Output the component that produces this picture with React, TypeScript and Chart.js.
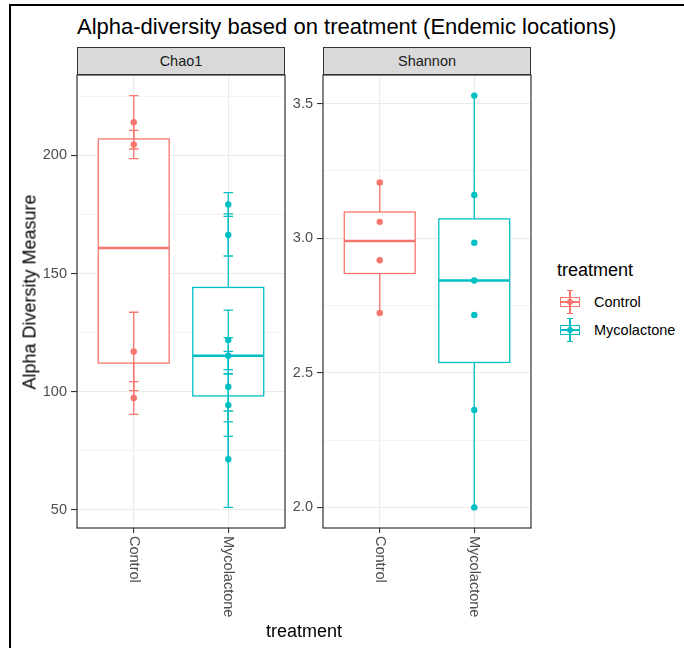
import React, { useEffect, useRef } from 'react';
import { Chart, registerables } from 'chart.js';

Chart.register(...registerables);

// ---------- data ----------
const treatments = ['Control', 'Mycolactone'];
const treatmentColors = ['#F8766D', '#00BFC4'];

const chao1Control = [214.0, 204.6, 117.0, 97.3];
const chao1ControlSE = [11.3, 6.0, 16.6, 6.9];
const chao1Myco = [179.2, 166.3, 121.9, 115.2, 102.1, 94.3, 71.4];
const chao1MycoSE = [5.0, 8.9, 12.6, 7.7, 14.9, 13.2, 20.4];

const shannonControl = [3.207, 3.061, 2.918, 2.722];
const shannonMyco = [3.53, 3.161, 2.983, 2.843, 2.715, 2.362, 2.0];

const chao1Ticks = [50, 100, 150, 200];
const chao1TickLabels = ['50', '100', '150', '200'];
const chao1Minor = [75, 125, 175, 225];

const shannonTicks = [2.0, 2.5, 3.0, 3.5];
const shannonTickLabels = ['2.0', '2.5', '3.0', '3.5'];
const shannonMinor = [2.25, 2.75, 3.25];

const FONT = '"Liberation Sans", Arial, Helvetica, sans-serif';

type Group = { x: number; values: number[]; se?: number[]; color: string };

function quantile7(sorted: number[], p: number) {
  const h = (sorted.length - 1) * p;
  const lo = Math.floor(h);
  const hi = Math.ceil(h);
  return sorted[lo] + (h - lo) * (sorted[hi] - sorted[lo]);
}

function yRange(groups: Group[]) {
  let lo = Infinity;
  let hi = -Infinity;
  groups.forEach((g) => {
    g.values.forEach((v, i) => {
      const e = g.se ? g.se[i] : 0;
      lo = Math.min(lo, v - e);
      hi = Math.max(hi, v + e);
    });
  });
  const pad = (hi - lo) * 0.05;
  return [lo - pad, hi + pad];
}

function makePlugin(groups: Group[]) {
  return {
    id: 'ggbox',
    beforeDatasetsDraw(chart: any) {
      const { ctx, scales } = chart;
      const x = scales.x;
      const y = scales.y;
      groups.forEach((g) => {
        const s = [...g.values].sort((a, b) => a - b);
        const q1 = quantile7(s, 0.25);
        const med = quantile7(s, 0.5);
        const q3 = quantile7(s, 0.75);
        const iqr = q3 - q1;
        const lowW = Math.min(...s.filter((v) => v >= q1 - 1.5 * iqr));
        const highW = Math.max(...s.filter((v) => v <= q3 + 1.5 * iqr));
        const xc = x.getPixelForValue(g.x);
        const xl = x.getPixelForValue(g.x - 0.375);
        const xr = x.getPixelForValue(g.x + 0.375);
        ctx.save();
        ctx.strokeStyle = g.color;
        ctx.lineWidth = 1.3;
        // whiskers
        ctx.beginPath();
        ctx.moveTo(xc, y.getPixelForValue(q3));
        ctx.lineTo(xc, y.getPixelForValue(highW));
        ctx.moveTo(xc, y.getPixelForValue(q1));
        ctx.lineTo(xc, y.getPixelForValue(lowW));
        ctx.stroke();
        // box
        const yt = y.getPixelForValue(q3);
        const yb = y.getPixelForValue(q1);
        ctx.fillStyle = '#FFFFFF';
        ctx.fillRect(xl, yt, xr - xl, yb - yt);
        ctx.strokeRect(xl, yt, xr - xl, yb - yt);
        // median
        ctx.lineWidth = 2.6;
        ctx.beginPath();
        ctx.moveTo(xl, y.getPixelForValue(med));
        ctx.lineTo(xr, y.getPixelForValue(med));
        ctx.stroke();
        ctx.restore();
      });
    },
    afterDatasetsDraw(chart: any) {
      const { ctx, scales, chartArea } = chart;
      const x = scales.x;
      const y = scales.y;
      groups.forEach((g) => {
        if (!g.se) return;
        const xc = x.getPixelForValue(g.x);
        const capHalf = Math.abs(x.getPixelForValue(g.x + 0.05) - xc);
        ctx.save();
        ctx.strokeStyle = g.color;
        ctx.lineWidth = 1.3;
        g.values.forEach((v, i) => {
          const e = g.se![i];
          const yt = y.getPixelForValue(v + e);
          const yb = y.getPixelForValue(v - e);
          ctx.beginPath();
          ctx.moveTo(xc, yt);
          ctx.lineTo(xc, yb);
          ctx.moveTo(xc - capHalf, yt);
          ctx.lineTo(xc + capHalf, yt);
          ctx.moveTo(xc - capHalf, yb);
          ctx.lineTo(xc + capHalf, yb);
          ctx.stroke();
        });
        ctx.restore();
      });
      // panel border
      ctx.save();
      ctx.strokeStyle = '#333333';
      ctx.lineWidth = 1.2;
      ctx.strokeRect(chartArea.left, chartArea.top, chartArea.right - chartArea.left, chartArea.bottom - chartArea.top);
      ctx.restore();
    },
    afterDraw(chart: any) {
      const { ctx, scales, chartArea } = chart;
      const x = scales.x;
      ctx.save();
      ctx.fillStyle = '#4D4D4D';
      ctx.font = `14.5px ${FONT}`;
      ctx.textAlign = 'left';
      ctx.textBaseline = 'middle';
      x.ticks.forEach((t: any, i: number) => {
        const px = x.getPixelForValue(t.value);
        ctx.save();
        ctx.translate(px, chartArea.bottom + 8);
        ctx.rotate(Math.PI / 2);
        ctx.fillText(treatments[i], 0, 0);
        ctx.restore();
      });
      ctx.restore();
    },
  };
}

function Panel(props: {
  groups: Group[];
  major: number[];
  majorLabels: string[];
  minor: number[];
  left: number;
  width: number;
  axisWidth: number;
  padRight: number;
}) {
  const ref = useRef<HTMLCanvasElement>(null);
  useEffect(() => {
    const canvas = ref.current!;
    const { groups, major, majorLabels, minor, axisWidth, padRight } = props;
    const [ymin, ymax] = yRange(groups);
    const isMajor = (v: number) => major.some((m) => Math.abs(m - v) < 1e-9);
    const chart = new Chart(canvas, {
      type: 'scatter',
      data: {
        datasets: groups.map((g) => ({
          data: g.values.map((v) => ({ x: g.x, y: v })),
          backgroundColor: g.color,
          borderColor: g.color,
          borderWidth: 0,
          pointRadius: 3.2,
          pointHoverRadius: 3.2,
        })),
      },
      options: {
        responsive: false,
        animation: false,
        devicePixelRatio: 1,
        layout: { padding: { top: 15, right: padRight, left: 0, bottom: 0 } },
        plugins: { legend: { display: false }, tooltip: { enabled: false }, title: { display: false } },
        scales: {
          x: {
            type: 'linear',
            min: 0.4,
            max: 2.6,
            afterBuildTicks: (ax: any) => {
              ax.ticks = treatments.map((_, i) => ({ value: i + 1 }));
            },
            ticks: { display: false },
            grid: { color: '#EBEBEB', lineWidth: 1.1, tickColor: '#333333', tickLength: 5, tickWidth: 1.1 },
            border: { display: false },
            afterFit: (ax: any) => {
              ax.height = 117;
            },
          },
          y: {
            type: 'linear',
            min: ymin,
            max: ymax,
            afterBuildTicks: (ax: any) => {
              const all = [...major, ...minor].filter((v) => v >= ymin && v <= ymax).sort((a, b) => a - b);
              ax.ticks = all.map((v) => ({ value: v }));
            },
            ticks: {
              autoSkip: false,
              color: '#4D4D4D',
              font: { family: FONT, size: 14.5 },
              padding: 4,
              callback: (v: any) => {
                const idx = major.findIndex((m) => Math.abs(m - v) < 1e-9);
                return idx >= 0 ? majorLabels[idx] : '';
              },
            },
            grid: {
              color: '#EBEBEB',
              lineWidth: (c: any) => (c.tick && isMajor(c.tick.value) ? 1.1 : 0.55),
              tickColor: (c: any) => (c.tick && isMajor(c.tick.value) ? '#333333' : 'rgba(0,0,0,0)'),
              tickLength: 6,
              tickWidth: 1.1,
            },
            border: { display: false },
            afterFit: (ax: any) => {
              ax.width = axisWidth;
            },
          },
        },
      },
      plugins: [makePlugin(groups)],
    } as any);
    return () => chart.destroy();
  }, []);
  return (
    <canvas
      ref={ref}
      width={props.width}
      height={585}
      style={{ position: 'absolute', left: props.left, top: 60, width: props.width, height: 585 }}
    />
  );
}

function LegendKey(props: { color: string; cy: number; label: string }) {
  const { color, cy, label } = props;
  const cx = 570;
  return (
    <>
      <div style={{ position: 'absolute', left: cx - 10, top: cy - 5, width: 20, height: 10, border: `1.2px solid ${color}`, boxSizing: 'border-box', background: '#fff' }} />
      <div style={{ position: 'absolute', left: cx - 10, top: cy - 1, width: 20, height: 2, background: color }} />
      <div style={{ position: 'absolute', left: cx - 0.6, top: cy - 12, width: 1.2, height: 24, background: color }} />
      <div style={{ position: 'absolute', left: cx - 3, top: cy - 12, width: 6, height: 1.2, background: color }} />
      <div style={{ position: 'absolute', left: cx - 3, top: cy + 11, width: 6, height: 1.2, background: color }} />
      <div style={{ position: 'absolute', left: cx - 3.2, top: cy - 3.2, width: 6.4, height: 6.4, borderRadius: '50%', background: color }} />
      <div style={{ position: 'absolute', left: 594, top: cy, transform: 'translateY(-50%)', fontSize: 14.5, color: '#000', whiteSpace: 'nowrap' }}>{label}</div>
    </>
  );
}

export default function App() {
  const chao1Groups: Group[] = [
    { x: 1, values: chao1Control, se: chao1ControlSE, color: treatmentColors[0] },
    { x: 2, values: chao1Myco, se: chao1MycoSE, color: treatmentColors[1] },
  ];
  const shannonGroups: Group[] = [
    { x: 1, values: shannonControl, color: treatmentColors[0] },
    { x: 2, values: shannonMyco, color: treatmentColors[1] },
  ];
  const strip = (left: number, text: string) => (
    <div
      style={{
        position: 'absolute', left, top: 47, width: 208, height: 28, background: '#D9D9D9',
        border: '1.2px solid #333333', boxSizing: 'border-box', display: 'flex', alignItems: 'center',
        justifyContent: 'center', fontSize: 14.5, color: '#1A1A1A',
      }}
    >
      {text}
    </div>
  );
  return (
    <div style={{ position: 'fixed', left: 0, top: 0, width: 684, height: 648, background: '#fff', overflow: 'hidden', fontFamily: FONT }}>
      <div style={{ position: 'absolute', left: 9, top: 4, width: 675, height: 2, background: '#000' }} />
      <div style={{ position: 'absolute', left: 9, top: 4, width: 2, height: 644, background: '#000' }} />
      <div style={{ position: 'absolute', left: 77, top: 27, transform: 'translateY(-50%)', fontSize: 22, color: '#000', whiteSpace: 'nowrap' }}>
        Alpha-diversity based on treatment (Endemic locations)
      </div>
      {strip(77, 'Chao1')}
      {strip(323, 'Shannon')}
      <Panel groups={chao1Groups} major={chao1Ticks} majorLabels={chao1TickLabels} minor={chao1Minor} left={0} width={290} axisWidth={77} padRight={5} />
      <Panel groups={shannonGroups} major={shannonTicks} majorLabels={shannonTickLabels} minor={shannonMinor} left={290} width={250} axisWidth={33} padRight={9} />
      <div style={{ position: 'absolute', left: 30, top: 292, transform: 'translate(-50%,-50%) rotate(-90deg)', fontSize: 18, color: '#000', whiteSpace: 'nowrap' }}>
        Alpha Diversity Measure
      </div>
      <div style={{ position: 'absolute', left: 304, top: 631, transform: 'translate(-50%,-50%)', fontSize: 18, color: '#000', whiteSpace: 'nowrap' }}>
        treatment
      </div>
      <div style={{ position: 'absolute', left: 557, top: 270, transform: 'translateY(-50%)', fontSize: 18, color: '#000', whiteSpace: 'nowrap' }}>
        treatment
      </div>
      <LegendKey color={treatmentColors[0]} cy={302} label={treatments[0]} />
      <LegendKey color={treatmentColors[1]} cy={330} label={treatments[1]} />
    </div>
  );
}
